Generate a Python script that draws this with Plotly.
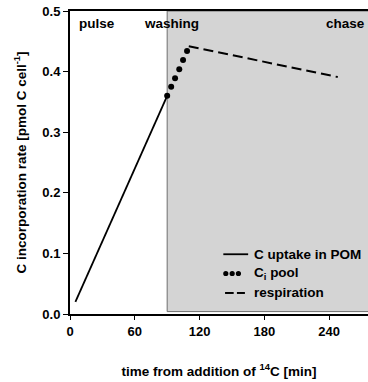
import plotly.graph_objects as go

# ---- data ----
pom_time = [5, 90]
pom_rate = [0.02, 0.36]

pool_time = [90, 93.7, 97.3, 101.2, 104.7, 108.4]
pool_rate = [0.36, 0.375, 0.389, 0.404, 0.419, 0.434]

resp_time = [110, 248]
resp_rate = [0.442, 0.391]

x_ticks = [0, 60, 120, 180, 240]
y_ticks = [0.0, 0.1, 0.2, 0.3, 0.4, 0.5]
y_tick_labels = ["0.0", "0.1", "0.2", "0.3", "0.4", "0.5"]

phase_labels = ["pulse", "washing", "chase"]
legend_labels = ["C uptake in POM", "C<sub>i</sub> pool", "respiration"]

FONT = "Liberation Sans, Arial, sans-serif"
TXT = dict(family=FONT, size=13.5, color="black", weight="bold")
TICK = dict(family=FONT, size=13, color="black", weight="bold")

X_MAX = 276
Y_MAX = 0.5

fig = go.Figure()

fig.add_trace(go.Scatter(x=pom_time, y=pom_rate, mode="lines",
                         line=dict(color="black", width=1.8), showlegend=False))
fig.add_trace(go.Scatter(x=pool_time, y=pool_rate, mode="markers",
                         marker=dict(color="black", size=6), showlegend=False))
fig.add_trace(go.Scatter(x=resp_time, y=resp_rate, mode="lines",
                         line=dict(color="black", width=2, dash="10px,5px"), showlegend=False))

shapes = []
# grey washing/chase region
shapes.append(dict(type="rect", xref="x", yref="y", x0=90, x1=320, y0=0.004, y1=0.5,
                   fillcolor="#d4d4d4", line=dict(color="#6e6e6e", width=1), layer="below"))

# manual legend samples
shapes.append(dict(type="line", xref="x", yref="y", x0=142, x1=165, y0=0.0986, y1=0.0986,
                   line=dict(color="black", width=1.8)))
for cx in [144.3, 150.2, 156.0]:
    shapes.append(dict(type="circle", xref="x", yref="y", xsizemode="pixel", ysizemode="pixel",
                       xanchor=cx, yanchor=0.0668, x0=-2.6, x1=2.6, y0=-2.6, y1=2.6,
                       fillcolor="black", line=dict(color="black", width=0)))
for x0, x1 in [(143.6, 151.6), (154.6, 162.0)]:
    shapes.append(dict(type="line", xref="x", yref="y", x0=x0, x1=x1, y0=0.0347, y1=0.0347,
                       line=dict(color="black", width=2)))

annotations = []
for lab, x, anchor in zip(phase_labels, [6.2, 67, 275], ["left", "left", "right"]):
    annotations.append(dict(text=lab, x=x / X_MAX, y=0.479 / Y_MAX, xref="paper", yref="paper",
                            showarrow=False, xanchor=anchor, yanchor="middle", font=TXT))
for lab, y in zip(legend_labels, [0.0986, 0.0668, 0.0347]):
    annotations.append(dict(text=lab, x=168.7 / X_MAX, y=y / Y_MAX, xref="paper", yref="paper",
                            showarrow=False, xanchor="left", yanchor="middle", font=TXT))

fig.update_layout(
    width=368, height=382,
    margin=dict(l=70, r=0, t=11, b=68, pad=0),
    paper_bgcolor="white", plot_bgcolor="white",
    shapes=shapes, annotations=annotations,
    xaxis=dict(range=[0, X_MAX], tickvals=x_ticks, ticks="outside", ticklen=4, tickwidth=1,
               tickcolor="black", showline=True, linecolor="black", linewidth=2, mirror=True,
               showgrid=False, zeroline=False, tickfont=TICK,
               title=dict(text="time from addition of <sup>14</sup>C [min]", font=TXT,
                          standoff=29)),
    yaxis=dict(range=[0, Y_MAX], tickvals=y_ticks, ticktext=y_tick_labels, ticks="outside",
               ticklen=5, tickwidth=1, tickcolor="black", showline=True, linecolor="black",
               linewidth=2, showgrid=False, zeroline=False, tickfont=TICK,
               title=dict(text="C incorporation rate [pmol C cell<sup>-1</sup>]", font=TXT,
                          standoff=13)),
)

fig.write_html("out.html")
